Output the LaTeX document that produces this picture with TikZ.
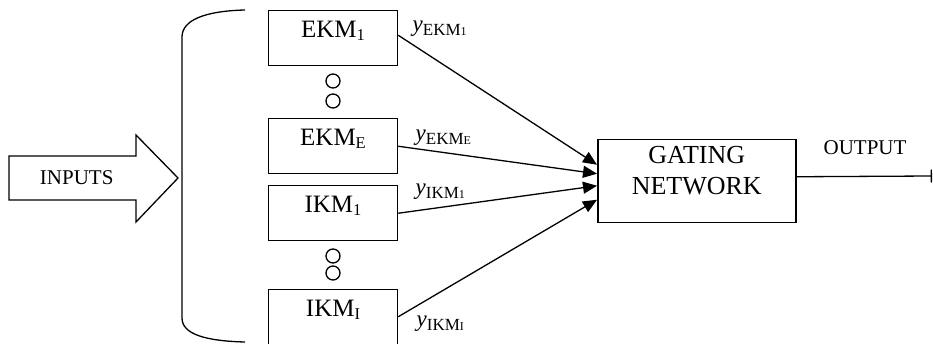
\documentclass[tikz,border=0pt]{standalone}
\usepackage{fontspec}
\setmainfont{Liberation Serif}
\usetikzlibrary{arrows.meta}

\newcommand{\lowsub}[1]{\raisebox{-3pt}{\fontsize{16.5}{16.5}\selectfont #1}}
\newcommand{\ylab}[2]{\fontsize{23}{23}\selectfont\textit{y}\raisebox{-4pt}{\fontsize{17}{17}\selectfont #1{\fontsize{12}{12}\selectfont #2}}}

\begin{document}
\begin{tikzpicture}[x=1pt,y=-1pt,line width=1.3pt,
  module/.style={draw,line width=1.5pt,minimum width=129pt,inner sep=0pt,
    text height=27pt,text depth=28pt,anchor=north,
    font=\fontsize{25}{25}\selectfont},
  feed/.style={-{Triangle[length=14pt,width=12pt]}},
  caps/.style={font=\fontsize{21}{21}\selectfont,anchor=base,inner sep=0pt},
  ylabel/.style={anchor=base west,inner sep=0pt}]
\useasboundingbox (0,0) rectangle (933,344);
% inputs
\draw (9,156) -- (136,156) -- (136,135) -- (178,178) -- (136,222)
  -- (136,200) -- (9,200) -- cycle;
\node[caps] (inputs) at (76.7,184.3) {INPUTS};
\draw (245,10) .. controls (205,11) and (182,20) .. (182,37) -- (182,318)
  .. controls (182,334) and (205,341) .. (245,342);
% expert modules
\node[module] (ekm1) at (333,10) {EKM\lowsub{1}};
\node[module] (ekmE) at (333,118) {EKM\lowsub{E}};
\node[module] (ikm1) at (333,185) {IKM\lowsub{1}};
\node[module] (ikmI) at (333,288.5) {IKM\lowsub{I}};
\foreach \y in {81, 101, 256, 273} {
  \draw (333,\y) circle (7pt);
}
% gating network
\node[draw,line width=1.5pt,minimum width=198pt,minimum height=83pt,
  anchor=north west,
  label={[name=gatetext,anchor=north,align=center,inner sep=0pt,
    label distance=-6.7pt,font=\fontsize{26}{31}\selectfont]north:GATING\\NETWORK}]
  (gate) at (597,139) {};
\draw[feed] ([yshift=3pt]ekm1.east) -- ([yshift=16.5pt]gate.west);
\draw[feed] (ekmE.east) -- ([yshift=7.5pt]gate.west);
\draw[feed] (ikm1.east) -- ([yshift=-4.5pt]gate.west);
\draw[feed] (ikmI.east) -- ([yshift=-18.5pt]gate.west);
\node[ylabel] (yekm1) at (412,32) {\ylab{EKM}{1}};
\node[ylabel] (yekmE) at (415,141) {\ylab{EKM}{E}};
\node[ylabel] (yikm1) at (415,195) {\ylab{IKM}{1}};
\node[ylabel] (yikmI) at (416,326) {\ylab{IKM}{I}};
% output
\coordinate (out) at (932,176);
\draw[-{Bar[width=13pt]}] ([yshift=4.5pt]gate.east) -- (out);
\node[caps] (outlbl) at (865,155) {OUTPUT};
\end{tikzpicture}
\end{document}
